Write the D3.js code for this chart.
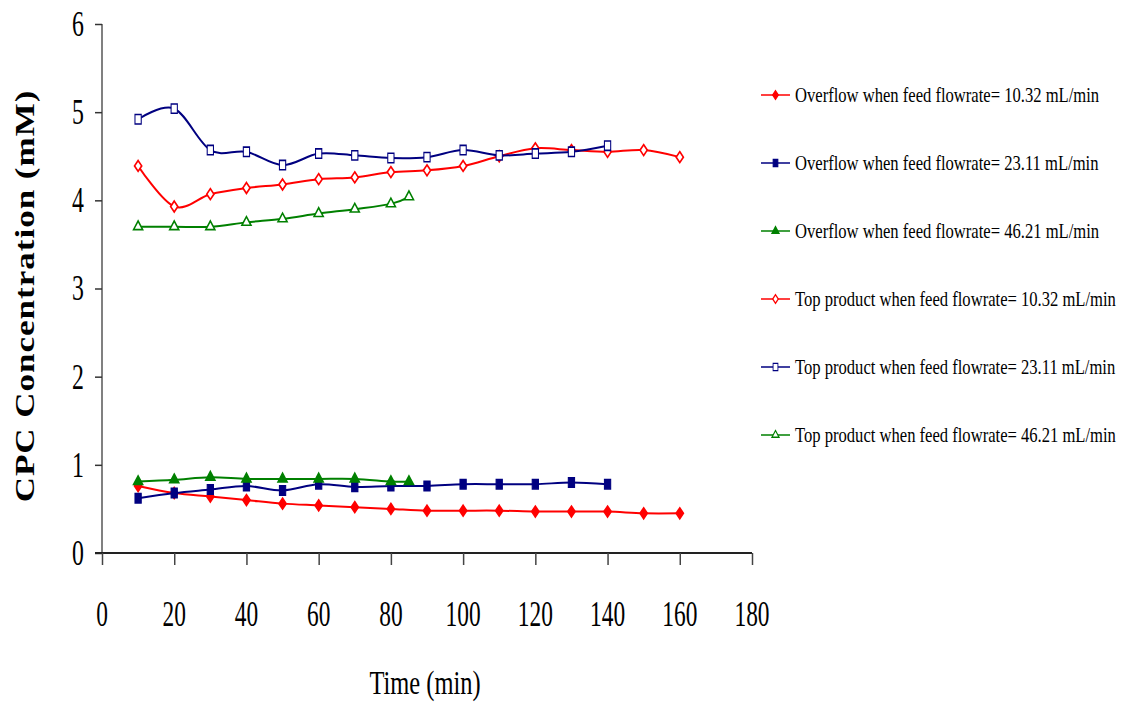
<!DOCTYPE html>
<html>
<head>
<meta charset="utf-8">
<script src="https://cdn.jsdelivr.net/npm/d3@7"></script>
<style>
  body { margin: 0; background: #fff; }
  text { font-family: 'Liberation Serif', 'DejaVu Serif', serif; fill: #000; }
</style>
</head>
<body>
<svg id="chart" width="1124" height="704"></svg>
<script>
// time points (min)
const timeLong = [10, 20, 30, 40, 50, 60, 70, 80, 90, 100, 110, 120, 130, 140, 150, 160]
const timeMid = [10, 20, 30, 40, 50, 60, 70, 80, 90, 100, 110, 120, 130, 140]
const timeShort = [10, 20, 30, 40, 50, 60, 70, 80, 85]

// CPC concentration (mM)
const overflow1032 = [0.76, 0.68, 0.64, 0.60, 0.56, 0.54, 0.52, 0.50, 0.48, 0.48, 0.48, 0.47, 0.47, 0.47, 0.45, 0.45]
const overflow2311 = [0.62, 0.68, 0.72, 0.76, 0.71, 0.78, 0.75, 0.76, 0.76, 0.78, 0.78, 0.78, 0.80, 0.78]
const overflow4621 = [0.81, 0.83, 0.86, 0.84, 0.84, 0.84, 0.84, 0.81, 0.81]
const top1032 = [4.39, 3.93, 4.07, 4.14, 4.18, 4.24, 4.26, 4.32, 4.34, 4.39, 4.50, 4.59, 4.57, 4.55, 4.57, 4.49]
const top2311 = [4.92, 5.04, 4.57, 4.55, 4.40, 4.53, 4.51, 4.48, 4.49, 4.57, 4.51, 4.53, 4.55, 4.62]
const top4621 = [3.70, 3.70, 3.70, 3.75, 3.79, 3.85, 3.90, 3.96, 4.04]

const xTicks = [0, 20, 40, 60, 80, 100, 120, 140, 160, 180]
const yTicks = [0, 1, 2, 3, 4, 5, 6]

const series = [
    { name: 'Overflow when feed flowrate= 10.32 mL/min', t: timeLong, v: overflow1032, color: '#ff0000', shape: 'diamond', open: false },
    { name: 'Overflow when feed flowrate= 23.11 mL/min', t: timeMid, v: overflow2311, color: '#000080', shape: 'square', open: false },
    { name: 'Overflow when feed flowrate= 46.21 mL/min', t: timeShort, v: overflow4621, color: '#008000', shape: 'triangle', open: false },
    { name: 'Top product when feed flowrate= 10.32 mL/min', t: timeLong, v: top1032, color: '#ff0000', shape: 'diamond', open: true },
    { name: 'Top product when feed flowrate= 23.11 mL/min', t: timeMid, v: top2311, color: '#000080', shape: 'square', open: true },
    { name: 'Top product when feed flowrate= 46.21 mL/min', t: timeShort, v: top4621, color: '#008000', shape: 'triangle', open: true }
]

const svg = d3.select('#chart')

const x = d3.scaleLinear().domain([0, 180]).range([102, 752])
const y = d3.scaleLinear().domain([0, 6]).range([553, 24])

// marker shapes, slightly narrow like the original figure
const shapes = {
    diamond: { type: d3.symbolDiamond, size: 34, sx: 1.15, sy: 1 },
    square: { type: d3.symbolSquare, size: 80, sx: 0.7, sy: 1.05 },
    triangle: { type: d3.symbolTriangle, size: 36, sx: 1, sy: 1.1 }
}

// y axis
const yAxis = svg.append('g')
    .attr('transform', `translate(${x(0)},0)`)
    .call(d3.axisLeft(y).tickValues(yTicks).tickSize(7).tickFormat(''))
yAxis.select('.domain').attr('stroke', '#808080').attr('stroke-width', 2).attr('d', `M0,${y(6)}H0V${y(0)}`)
yAxis.selectAll('.tick line').attr('stroke', '#333').attr('stroke-width', 1.5)

svg.append('g')
    .selectAll('text')
    .data(yTicks)
    .enter().append('text')
    .attr('transform', d => `translate(84,${y(d)}) scale(0.68,1)`)
    .attr('text-anchor', 'end')
    .attr('dy', '0.34em')
    .style('font-size', '35px')
    .text(d => d)

// x axis
const xAxis = svg.append('g')
    .attr('transform', `translate(0,${y(0)})`)
    .call(d3.axisBottom(x).tickValues(xTicks).tickSize(12).tickFormat(''))
xAxis.select('.domain').attr('stroke', '#222').attr('stroke-width', 2).attr('d', `M95,0H${x(180)}`)
xAxis.selectAll('.tick line').attr('stroke', '#444').attr('stroke-width', 1.5)

svg.append('g')
    .selectAll('text')
    .data(xTicks)
    .enter().append('text')
    .attr('transform', d => `translate(${x(d)},626) scale(0.65,1)`)
    .attr('text-anchor', 'middle')
    .style('font-size', '36px')
    .text(d => d)

// axis titles
svg.append('text')
    .attr('transform', 'translate(425,694) scale(0.72,1)')
    .attr('text-anchor', 'middle')
    .style('font-size', '34px')
    .text('Time (min)')

svg.append('text')
    .attr('transform', 'translate(34,296) scale(0.8,1) rotate(-90)')
    .attr('text-anchor', 'middle')
    .style('font-size', '35px')
    .style('font-weight', 'bold')
    .style('letter-spacing', '1px')
    .text('CPC Concentration (mM)')

// lines + markers
const line = d3.line()
    .x(d => x(d[0]))
    .y(d => y(d[1]))
    .curve(d3.curveCatmullRom.alpha(0))

series.forEach(s => {
    const pts = s.t.map((t, i) => [t, s.v[i]])
    svg.append('path')
        .datum(pts)
        .attr('fill', 'none')
        .attr('stroke', s.color)
        .attr('stroke-width', 2)
        .attr('d', line)

    const sh = shapes[s.shape]
    svg.append('g')
        .selectAll('path')
        .data(pts)
        .enter().append('path')
        .attr('d', d3.symbol().type(sh.type).size(sh.size))
        .attr('transform', d => `translate(${x(d[0])},${y(d[1])}) scale(${sh.sx},${sh.sy})`)
        .attr('fill', s.open ? '#fff' : s.color)
        .attr('stroke', s.color)
        .attr('stroke-width', 1.5)
})

// legend
const legend = svg.selectAll('.legend')
    .data(series)
    .enter().append('g')
    .attr('class', 'legend')
    .attr('transform', (d, i) => `translate(761,${95 + i * 68})`)

legend.append('line')
    .attr('x1', 0)
    .attr('x2', 29)
    .attr('stroke', d => d.color)
    .attr('stroke-width', 1.5)

legend.append('path')
    .attr('d', d => d3.symbol().type(shapes[d.shape].type).size(shapes[d.shape].size * 0.6)())
    .attr('transform', d => `translate(14.5,0) scale(${shapes[d.shape].sx},${shapes[d.shape].sy})`)
    .attr('fill', d => d.open ? '#fff' : d.color)
    .attr('stroke', d => d.color)
    .attr('stroke-width', 1.2)

legend.append('text')
    .attr('transform', 'translate(34,0) scale(0.83,1)')
    .attr('dy', '0.33em')
    .style('font-size', '20px')
    .text(d => d.name)
</script>
</body>
</html>
